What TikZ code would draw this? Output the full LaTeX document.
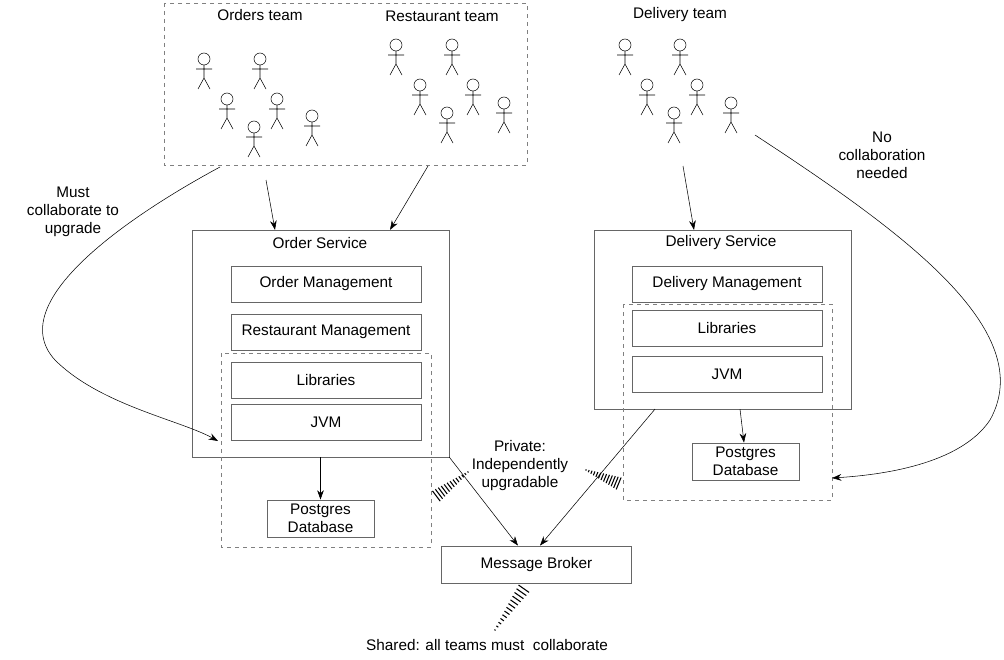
\documentclass[tikz,border=0pt]{standalone}
\usepackage{fontspec}
\setmainfont{Liberation Sans}
\usetikzlibrary{positioning,calc,arrows.meta}

\tikzset{
  box/.style={draw, gray!80!black, text=black, minimum width=142.5pt, minimum height=27pt, inner sep=0pt},
  grp/.style={draw, gray, dashed},
  lbl/.style={align=center, font=\fontsize{11.5}{13.5}\selectfont},
  flow/.style={-{Stealth[length=7pt,width=5pt]}, black},
  actor/.pic={
    \draw (0,0) circle (6);
    \draw (0,6) -- (0,19) (-8,10) -- (8,10) (-6,30) -- (0,19) -- (6,30);
  }
}
\newcommand\hatchwedge[2]{%
  \foreach \t in {0,0.08,...,1.0} {
    \pgfmathsetmacro\hl{0.5+4.5*\t}
    \coordinate (hp) at ($(#1)!\t!(#2)$);
    \draw[line width=0.8pt] ($(hp)!\hl pt!90:(#2)$) -- ($(hp)!\hl pt!-90:(#2)$);
  }}

\begin{document}
\begin{tikzpicture}[x=0.75pt, y=-0.75pt, lbl]
\useasboundingbox (0,0) rectangle (1004,660);

% teams
\draw[grp] (164,3) rectangle (527,165);
\node (ot) at (260,15) {Orders team};
\node (rt) at (442,16) {Restaurant team};
\node (dt) at (680,15) {Delivery team};
\foreach \x/\y in {204/59,260/59,227/99,277/99,312/116,254/127,
                   396/45,452/45,420/85,473/85,504/103,447/113,
                   625/45,680/45,647/85,697/85,731/103,674/113}
  \pic at (\x,\y) {actor};

% order service
\node[box, minimum width=192.75pt, minimum height=170pt] (os) at (320.5,343.5) {};
\node (osl) at (320,243) {Order Service};
\node[box] (om) at (326,284) {Order Management};
\node[box] (rm) at (326,332) {Restaurant Management};
\draw[grp] (221,353) rectangle (431,547);
\node[box] (ol) at (326,380) {Libraries};
\node[box] (oj) at (326,422) {JVM};
\node[box, minimum width=80pt, minimum height=28pt] (odb) at (320.5,518.5) {Postgres\\Database};

% delivery service
\node[box, minimum width=192.75pt, minimum height=134pt] (ds) at (722.5,319.5) {};
\node (dsl) at (721,243) {Delivery Service};
\node[box] (dm) at (727,284) {Delivery Management};
\draw[grp] (623,304) rectangle (832,500);
\node[box] (dl) at (727,328) {Libraries};
\node[box] (dj) at (727,374) {JVM};
\node[box, minimum width=80pt, minimum height=28pt] (ddb) at (745.5,461.5) {Postgres\\Database};

% broker
\node[box, minimum height=28pt] (mb) at (536.5,564.5) {Message Broker};

% arrows
\coordinate (a1) at (266,180);
\coordinate (a2) at (428,166);
\coordinate (a3) at (683,166);
\draw[flow] (a1) -- (os.north -| 275,0);
\draw[flow] (a2) -- (os.north -| 390,0);
\draw[flow] (a3) -- (ds.north -| 694,0);
\draw[flow] (os.south -| odb) -- (odb);
\draw[flow] (ds.south -| 740,0) -- (ddb.north -| 744,0);
\draw[flow] (os.south east) -- (mb.north -| 518,0);
\draw[flow] (ds.south -| 655,0) -- (mb.north -| 540,0);

\coordinate (c1) at (220,167);
\coordinate (c2) at (218,441);
\draw[flow] (c1) .. controls (140,210) and (0,300) .. (55,360) .. controls (100,405) and (180,420) .. (c2);
\node (mc) at (73,212) {Must\\collaborate to\\upgrade};
\coordinate (c3) at (755,135);
\coordinate (c4) at (832,478);
\draw[flow] (c3) .. controls (900,230) and (1040,330) .. (990,420) .. controls (960,465) and (880,475) .. (c4);
\node (nc) at (882,155) {No\\collaboration\\needed};

% labels
\node (pr) at (520,466) {Private:\\Independently\\upgradable};
\node (sh) at (487,645) {Shared: all teams must\ \ collaborate};
\coordinate (h1) at (468,472); \coordinate (h2) at (435,497);
\coordinate (h3) at (586,470); \coordinate (h4) at (620,484);
\coordinate (h5) at (495,630); \coordinate (h6) at (525,587);
\hatchwedge{h1}{h2}
\hatchwedge{h3}{h4}
\hatchwedge{h5}{h6}
\end{tikzpicture}
\end{document}
